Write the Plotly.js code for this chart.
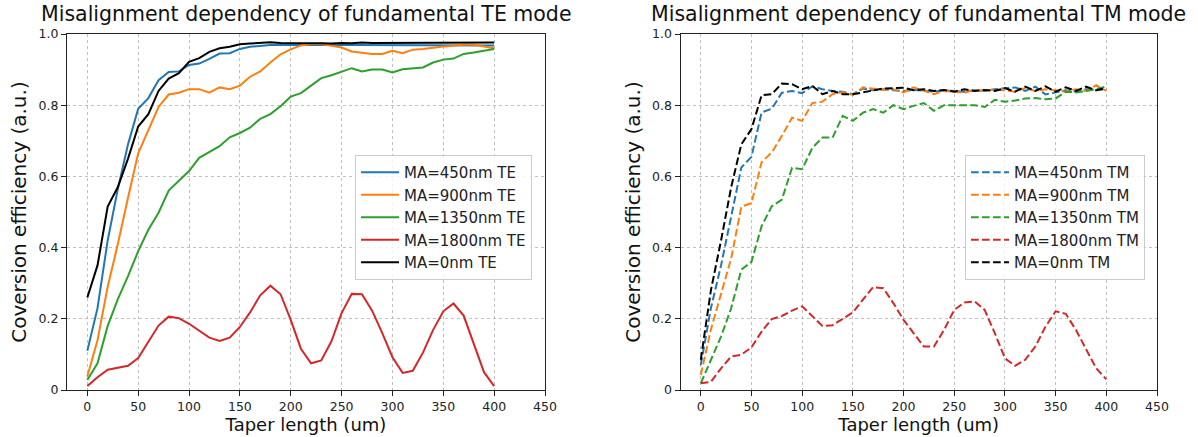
<!DOCTYPE html>
<html>
<head>
<meta charset="utf-8">
<script src="https://cdn.plot.ly/plotly-3.0.1.min.js"></script>
<style>html,body{margin:0;padding:0;background:#fff;}#chart{width:1198px;height:437px;}</style>
</head>
<body>
<div id="chart"></div>
<script>
// Taper length (um)
const taperLength = [0,10,20,30,40,50,60,70,80,90,100,110,120,130,140,150,160,170,180,190,200,
  210,220,230,240,250,260,270,280,290,300,310,320,330,340,350,360,370,380,390,400];

// TE mode conversion efficiency
const te450 = [0.11,0.23,0.42,0.565,0.69,0.79,0.82,0.87,0.893,0.895,0.913,0.917,0.93,0.945,0.946,0.958,0.964,0.967,0.969,0.97,0.97,
  0.969,0.97,0.97,0.968,0.969,0.97,0.969,0.97,0.97,0.969,0.969,0.97,0.97,0.97,0.969,0.97,0.97,0.97,0.969,0.968];
const te900 = [0.038,0.14,0.29,0.41,0.54,0.665,0.73,0.795,0.83,0.835,0.845,0.845,0.835,0.85,0.845,0.855,0.88,0.895,0.92,0.943,0.957,
  0.968,0.972,0.972,0.967,0.962,0.951,0.948,0.944,0.944,0.953,0.946,0.956,0.958,0.962,0.965,0.967,0.97,0.97,0.965,0.96];
const te1350 = [0.028,0.075,0.18,0.255,0.32,0.39,0.45,0.498,0.56,0.587,0.615,0.652,0.668,0.685,0.71,0.722,0.737,0.762,0.775,0.797,0.824,
  0.834,0.855,0.876,0.884,0.895,0.904,0.895,0.9,0.9,0.892,0.901,0.904,0.906,0.92,0.928,0.931,0.944,0.948,0.953,0.958];
const te1800 = [0.011,0.036,0.057,0.062,0.068,0.09,0.134,0.181,0.206,0.202,0.186,0.167,0.147,0.138,0.147,0.177,0.218,0.266,0.293,0.269,0.197,
  0.116,0.075,0.083,0.137,0.216,0.27,0.269,0.223,0.16,0.092,0.048,0.054,0.105,0.169,0.221,0.243,0.209,0.131,0.05,0.011];
const te0 = [0.26,0.35,0.515,0.57,0.65,0.74,0.775,0.84,0.875,0.89,0.922,0.932,0.95,0.96,0.964,0.971,0.973,0.975,0.977,0.975,0.975,
  0.975,0.976,0.974,0.973,0.975,0.974,0.976,0.975,0.975,0.974,0.975,0.976,0.975,0.976,0.976,0.975,0.976,0.976,0.976,0.976];

// TM mode conversion efficiency
const tm450 = [0.07,0.23,0.35,0.49,0.625,0.655,0.78,0.79,0.835,0.84,0.834,0.853,0.845,0.84,0.838,0.831,0.847,0.842,0.845,0.842,0.84,
  0.843,0.84,0.838,0.842,0.84,0.838,0.842,0.84,0.845,0.848,0.85,0.84,0.852,0.83,0.836,0.842,0.838,0.845,0.842,0.845];
const tm900 = [0.042,0.17,0.27,0.37,0.515,0.525,0.64,0.667,0.714,0.765,0.756,0.806,0.81,0.831,0.836,0.829,0.85,0.847,0.843,0.845,0.836,
  0.85,0.84,0.831,0.84,0.838,0.835,0.843,0.84,0.845,0.842,0.838,0.848,0.84,0.845,0.842,0.838,0.845,0.84,0.856,0.84];
const tm1350 = [0.019,0.085,0.15,0.23,0.338,0.36,0.46,0.516,0.535,0.624,0.62,0.68,0.709,0.709,0.77,0.756,0.779,0.789,0.779,0.8,0.789,
  0.798,0.806,0.784,0.8,0.8,0.8,0.8,0.795,0.815,0.81,0.813,0.819,0.82,0.817,0.819,0.838,0.836,0.84,0.845,0.853];
const tm1800 = [0.019,0.023,0.061,0.094,0.099,0.12,0.164,0.199,0.208,0.223,0.235,0.207,0.18,0.182,0.199,0.218,0.254,0.289,0.286,0.244,0.197,
  0.158,0.122,0.122,0.169,0.225,0.246,0.249,0.225,0.16,0.089,0.068,0.085,0.122,0.178,0.221,0.214,0.169,0.113,0.061,0.03];
const tm0 = [0.085,0.28,0.42,0.57,0.69,0.733,0.828,0.831,0.861,0.859,0.845,0.854,0.831,0.84,0.831,0.831,0.836,0.842,0.847,0.848,0.849,
  0.842,0.845,0.84,0.843,0.838,0.845,0.84,0.843,0.84,0.848,0.838,0.852,0.84,0.853,0.838,0.85,0.84,0.852,0.842,0.848];

const teNames = ['MA=450nm TE','MA=900nm TE','MA=1350nm TE','MA=1800nm TE','MA=0nm TE'];
const tmNames = ['MA=450nm TM','MA=900nm TM','MA=1350nm TM','MA=1800nm TM','MA=0nm TM'];
const colors = ['#1f77b4','#ff7f0e','#2ca02c','#d62728','#000000'];
const xTicks = [0,50,100,150,200,250,300,350,400,450];
const yTicks = [0,0.2,0.4,0.6,0.8,1.0];
const yTickText = ['0','0.2','0.4','0.6','0.8','1.0'];

const FONT = 'DejaVu Sans, sans-serif';
const teSeries = [te450, te900, te1350, te1800, te0];
const tmSeries = [tm450, tm900, tm1350, tm1800, tm0];

const traces = [];
teSeries.forEach((ys, i) => traces.push({
  x: taperLength, y: ys, type: 'scatter', mode: 'lines', name: teNames[i],
  line: {color: colors[i], width: 2}, xaxis: 'x', yaxis: 'y', legend: 'legend'
}));
tmSeries.forEach((ys, i) => traces.push({
  x: taperLength, y: ys, type: 'scatter', mode: 'lines', name: tmNames[i],
  line: {color: colors[i], width: 2, dash: '7.7px,3.3px'}, xaxis: 'x2', yaxis: 'y2', legend: 'legend2'
}));

function xAxis(domain, anchor) {
  return {
    domain: domain, anchor: anchor, range: [-20, 450], tickvals: xTicks,
    showline: true, mirror: true, linecolor: '#222', linewidth: 1,
    ticks: 'outside', ticklen: 5, tickcolor: '#222', tickwidth: 1,
    showgrid: true, gridcolor: '#b0b0b0', gridwidth: 0.8, griddash: 'dot', zeroline: false,
    tickfont: {family: FONT, size: 12.5, color: '#222'},
    title: {text: 'Taper length (um)', font: {family: FONT, size: 18, color: '#111'}, standoff: 4},
    automargin: false, fixedrange: true
  };
}
function yAxis(anchor) {
  return {
    domain: [0, 1], anchor: anchor, range: [0, 1], tickvals: yTicks, ticktext: yTickText,
    showline: true, mirror: true, linecolor: '#222', linewidth: 1,
    ticks: 'outside', ticklen: 5, tickcolor: '#222', tickwidth: 1,
    showgrid: true, gridcolor: '#b0b0b0', gridwidth: 0.8, griddash: 'dot', zeroline: false,
    tickfont: {family: FONT, size: 12.5, color: '#222'},
    title: {text: 'Coversion efficiency (a.u.)', font: {family: FONT, size: 20, color: '#111'}, standoff: 6},
    automargin: false, fixedrange: true
  };
}

const L = 67, R = 1198 - 1157, T = 34, B = 47;
const W = 1198 - L - R, H = 437 - T - B;
const legendStyle = (px) => ({
  x: (px - L) / W, y: 1 - (155 - T) / H, xanchor: 'left', yanchor: 'top',
  bgcolor: 'rgba(255,255,255,0.8)', bordercolor: '#cccccc', borderwidth: 1,
  font: {family: FONT, size: 15, color: '#222'}, itemwidth: 38, traceorder: 'normal'
});
const titleAnno = (text, cx) => ({
  text: text, xref: 'paper', yref: 'paper',
  x: (cx - L) / W, y: 1 + (T - 14) / H, xanchor: 'center', yanchor: 'middle', showarrow: false,
  font: {family: FONT, size: 20.5, color: '#111'}
});

const layout = {
  width: 1198, height: 437,
  margin: {l: L, r: R, t: T, b: B, pad: 0},
  paper_bgcolor: '#ffffff', plot_bgcolor: '#ffffff',
  showlegend: true,
  xaxis: xAxis([0, (545 - L) / W], 'y'),
  yaxis: yAxis('x'),
  xaxis2: xAxis([(680.5 - L) / W, 1], 'y2'),
  yaxis2: yAxis('x2'),
  legend: legendStyle(355),
  legend2: legendStyle(965),
  annotations: [
    titleAnno('Misalignment dependency of fundamental TE mode', (67 + 545) / 2),
    titleAnno('Misalignment dependency of fundamental TM mode', (680.5 + 1157) / 2)
  ]
};

Plotly.newPlot('chart', traces, layout, {displayModeBar: false, staticPlot: true});
</script>
</body>
</html>
